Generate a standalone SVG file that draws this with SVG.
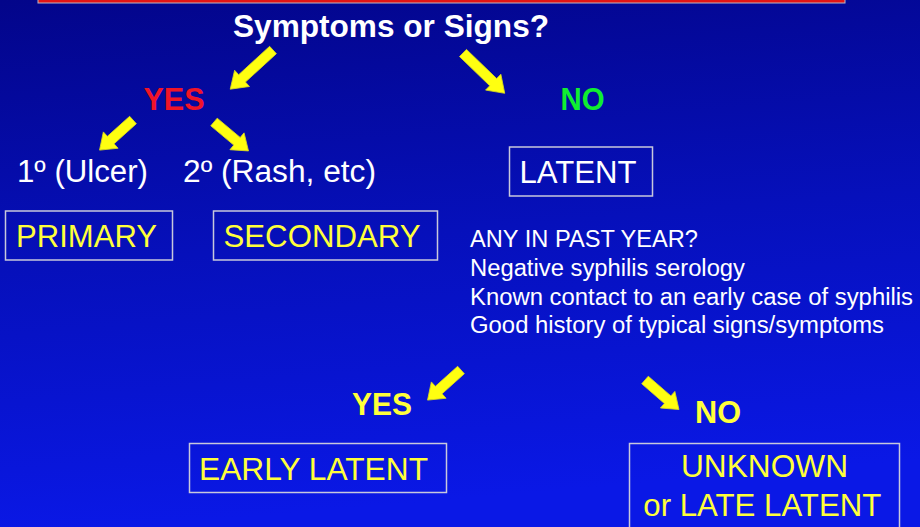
<svg xmlns="http://www.w3.org/2000/svg" xmlns:xlink="http://www.w3.org/1999/xlink" width="920" height="527" viewBox="0 0 920 527">
<defs>
<linearGradient id="bg" x1="0" y1="0" x2="0.15" y2="1">
<stop offset="0" stop-color="#03058a"/>
<stop offset="0.5" stop-color="#0610bb"/>
<stop offset="1" stop-color="#0a18e6"/>
</linearGradient>
<path id="arrL" d="M0,-5 H42 V-11 L58,0 L42,11 V5 H0 Z"/>
<path id="arrS" d="M0,-5 H30 V-11 L45,0 L30,11 V5 H0 Z"/>
</defs>
<style>
text{font-family:"Liberation Sans",Arial,sans-serif;}
.b{font-weight:bold;font-size:31px;}
.r{font-size:31px;}
.s{font-size:23.5px;fill:#ffffff;}
.w{fill:#ffffff;}
.y{fill:#ffff3a;}
.box{fill:none;stroke:#c8c8dc;stroke-width:1.5;}
.arrow{fill:#ffff10;stroke:#d8d820;stroke-width:0.8;}
</style>
<rect x="0" y="0" width="920" height="527" fill="url(#bg)"/>
<rect x="38" y="-10" width="807" height="13" fill="#e41414" stroke="#b8b8c8" stroke-width="1"/>

<g id="connectors">
<use xlink:href="#arrL" class="arrow" transform="translate(273,50) rotate(137.5)"/>
<use xlink:href="#arrL" class="arrow" transform="translate(463,53) rotate(44)"/>
<use xlink:href="#arrS" class="arrow" transform="translate(133,120) rotate(138)"/>
<use xlink:href="#arrS" class="arrow" transform="translate(214,122) rotate(40)"/>
<use xlink:href="#arrS" class="arrow" transform="translate(461,370) rotate(138)"/>
<use xlink:href="#arrS" class="arrow" transform="translate(645,380) rotate(41)"/>
</g>

<g id="question">
<text class="b w" x="233" y="37" textLength="316" lengthAdjust="spacingAndGlyphs">Symptoms or Signs?</text>
</g>
<g id="yes1">
<text class="b" x="143.5" y="110" fill="#f01428" textLength="61" lengthAdjust="spacingAndGlyphs">YES</text>
</g>
<g id="no1">
<text class="b" x="560.5" y="110" fill="#10ee30" textLength="44" lengthAdjust="spacingAndGlyphs">NO</text>
</g>
<g id="ulcer">
<text class="r w" x="17" y="182" textLength="131" lengthAdjust="spacingAndGlyphs">1º (Ulcer)</text>
</g>
<g id="rash">
<text class="r w" x="183" y="182" textLength="193" lengthAdjust="spacingAndGlyphs">2º (Rash, etc)</text>
</g>
<g id="primary">
<rect class="box" x="5.5" y="211" width="167" height="49"/>
<text class="r y" x="16" y="246.5" textLength="141" lengthAdjust="spacingAndGlyphs">PRIMARY</text>
</g>
<g id="secondary">
<rect class="box" x="213.5" y="211" width="224" height="49"/>
<text class="r y" x="223.5" y="246.5" textLength="197" lengthAdjust="spacingAndGlyphs">SECONDARY</text>
</g>
<g id="latent">
<rect class="box" x="509.5" y="147" width="143" height="49"/>
<text class="r w" x="519.5" y="182.7" textLength="117" lengthAdjust="spacingAndGlyphs">LATENT</text>
</g>
<g id="criteria">
<text class="s" x="470" y="246.7" textLength="228" lengthAdjust="spacingAndGlyphs">ANY IN PAST YEAR?</text>
<text class="s" x="470" y="275.7" textLength="275" lengthAdjust="spacingAndGlyphs">Negative syphilis serology</text>
<text class="s" x="470" y="305" textLength="443" lengthAdjust="spacingAndGlyphs">Known contact to an early case of syphilis</text>
<text class="s" x="470" y="333.3" textLength="414" lengthAdjust="spacingAndGlyphs">Good history of typical signs/symptoms</text>
</g>
<g id="yes2">
<text class="b y" x="352" y="415" textLength="60" lengthAdjust="spacingAndGlyphs">YES</text>
</g>
<g id="no2">
<text class="b y" x="695" y="422.7" textLength="46" lengthAdjust="spacingAndGlyphs">NO</text>
</g>
<g id="early-latent">
<rect class="box" x="189.5" y="443.5" width="257" height="49"/>
<text class="r y" x="199" y="480" textLength="229" lengthAdjust="spacingAndGlyphs">EARLY LATENT</text>
</g>
<g id="late-latent">
<rect class="box" x="629.5" y="443.5" width="270" height="100"/>
<text class="r y" x="681" y="477" textLength="167" lengthAdjust="spacingAndGlyphs">UNKNOWN</text>
<text class="r y" x="643.3" y="516" textLength="238" lengthAdjust="spacingAndGlyphs">or LATE LATENT</text>
</g>
</svg>
